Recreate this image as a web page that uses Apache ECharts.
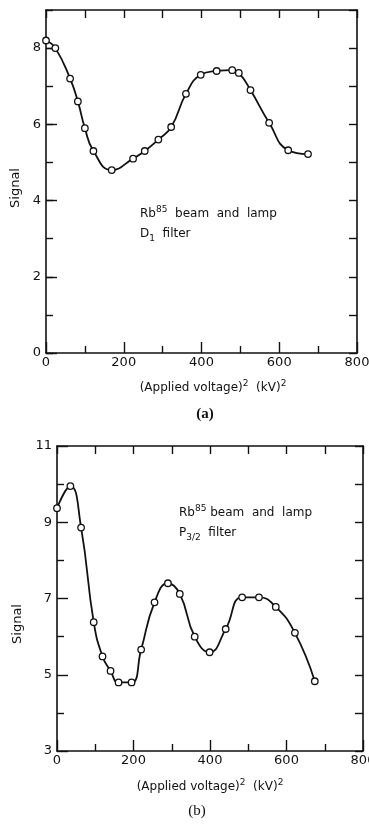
<!DOCTYPE html>
<html>
<head>
<meta charset="utf-8">
<script src="https://cdn.jsdelivr.net/npm/echarts@6/dist/echarts.min.js"></script>
<style>
html,body{margin:0;padding:0;background:#fff;}
#chart{width:369px;height:827px;}
</style>
</head>
<body>
<div id="chart"></div>
<script>
// Panel (a): Rb85 beam and lamp, D1 filter
var xA = [0, 24, 62, 82, 100, 122, 169, 224, 254, 289, 322, 360, 398, 439, 479, 496, 526, 574, 623, 674];
var yA = [8.2, 8.0, 7.2, 6.6, 5.9, 5.3, 4.8, 5.1, 5.3, 5.6, 5.93, 6.8, 7.3, 7.4, 7.42, 7.35, 6.9, 6.04, 5.32, 5.22];
// Panel (b): Rb85 beam and lamp, P3/2 filter
var xB = [0, 35, 63, 96, 119, 140, 161, 195, 220, 255, 290, 321, 360, 399, 441, 484, 528, 572, 622, 674];
var yB = [9.37, 9.95, 8.86, 6.38, 5.48, 5.10, 4.80, 4.80, 5.66, 6.9, 7.4, 7.12, 6.0, 5.59, 6.2, 7.03, 7.03, 6.78, 6.1, 4.83];

var xTitle = '(Applied voltage)';
var yTitle = 'Signal';

function pairs(xs, ys) { return xs.map(function (x, i) { return [x, ys[i]]; }); }

var INK = '#111';
var FONT = 'DejaVu Sans';
var lineSt = { color: INK, width: 1.6 };
var tickSt = { color: INK, width: 1.4 };

function axisBase(extra) {
  var a = {
    type: 'value',
    axisLine: { show: true, onZero: false, lineStyle: lineSt },
    axisTick: { show: true, inside: true, length: 11, lineStyle: tickSt },
    splitLine: { show: false },
    minorSplitLine: { show: false },
    axisLabel: { show: true, color: INK, fontSize: 13, fontFamily: FONT, margin: 3 }
  };
  for (var k in extra) a[k] = extra[k];
  return a;
}
function mirror(extra) {
  var a = {
    type: 'value',
    axisLine: { show: true, onZero: false, lineStyle: lineSt },
    axisTick: { show: true, inside: true, length: 8, lineStyle: tickSt },
    splitLine: { show: false },
    axisLabel: { show: false }
  };
  for (var k in extra) a[k] = extra[k];
  return a;
}

var option = {
  animation: false,
  backgroundColor: '#fff',
  grid: [
    { left: 46, top: 10, width: 311, height: 343, outerBoundsMode: 'none', containLabel: false },
    { left: 57, top: 446, width: 306, height: 305, outerBoundsMode: 'none', containLabel: false }
  ],
  xAxis: [
    axisBase({ gridIndex: 0, position: 'bottom', min: 0, max: 800, interval: 200,
      minorTick: { show: true, splitNumber: 2, length: 7, lineStyle: tickSt } }),
    mirror({ gridIndex: 0, position: 'top', min: 0, max: 800, interval: 100 }),
    axisBase({ gridIndex: 1, position: 'bottom', min: 0, max: 800, interval: 200,
      minorTick: { show: true, splitNumber: 2, length: 7, lineStyle: tickSt } }),
    mirror({ gridIndex: 1, position: 'top', min: 0, max: 800, interval: 100 })
  ],
  yAxis: [
    axisBase({ gridIndex: 0, position: 'left', min: 0, max: 9, interval: 2,
      axisLabel: { show: true, showMaxLabel: false, color: INK, fontSize: 13, fontFamily: FONT, margin: 5 } }),
    mirror({ gridIndex: 0, position: 'left', min: 0, max: 9, interval: 1,
      axisLine: { show: false }, axisTick: { show: true, inside: true, length: 7, lineStyle: tickSt } }),
    mirror({ gridIndex: 0, position: 'right', min: 0, max: 9, interval: 1 }),
    axisBase({ gridIndex: 1, position: 'left', min: 3, max: 11, interval: 2,
      minorTick: { show: true, splitNumber: 2, length: 7, lineStyle: tickSt },
      axisLabel: { show: true, color: INK, fontSize: 13, fontFamily: FONT, margin: 5 } }),
    mirror({ gridIndex: 1, position: 'right', min: 3, max: 11, interval: 1 })
  ],
  series: [
    {
      type: 'line', xAxisIndex: 0, yAxisIndex: 0, data: pairs(xA, yA),
      smooth: 0.5, symbol: 'circle', symbolSize: 6.5,
      lineStyle: { color: INK, width: 1.8 },
      itemStyle: { color: '#fff', borderColor: INK, borderWidth: 1.3 }
    },
    {
      type: 'line', xAxisIndex: 2, yAxisIndex: 3, data: pairs(xB, yB),
      smooth: 0.5, symbol: 'circle', symbolSize: 6.5,
      lineStyle: { color: INK, width: 1.8 },
      itemStyle: { color: '#fff', borderColor: INK, borderWidth: 1.3 }
    }
  ],
  graphic: [
    { type: 'text', x: 16, y: 188, rotation: Math.PI / 2,
      style: { text: yTitle, fontSize: 13, fontFamily: FONT, fill: INK, align: 'center', verticalAlign: 'middle' } },
    { type: 'text', x: 18, y: 624, rotation: Math.PI / 2,
      style: { text: yTitle, fontSize: 13, fontFamily: FONT, fill: INK, align: 'center', verticalAlign: 'middle' } },
    { type: 'text', x: 213, y: 388,
      style: { text: '{m|' + xTitle + '}{s|2}{m|  (kV)}{s|2}', fill: INK, align: 'center', verticalAlign: 'middle',
        rich: { m: { fontSize: 12, fontFamily: FONT, lineHeight: 18, fill: INK },
                s: { fontSize: 9, fontFamily: FONT, lineHeight: 8, verticalAlign: 'top', fill: INK } } } },
    { type: 'text', x: 210, y: 787,
      style: { text: '{m|' + xTitle + '}{s|2}{m|  (kV)}{s|2}', fill: INK, align: 'center', verticalAlign: 'middle',
        rich: { m: { fontSize: 12, fontFamily: FONT, lineHeight: 18, fill: INK },
                s: { fontSize: 9, fontFamily: FONT, lineHeight: 8, verticalAlign: 'top', fill: INK } } } },
    { type: 'text', x: 205, y: 414,
      style: { text: '(a)', fontSize: 15, fontWeight: 'bold', fontFamily: 'Liberation Serif', fill: INK, align: 'center', verticalAlign: 'middle' } },
    { type: 'text', x: 197, y: 811,
      style: { text: '(b)', fontSize: 15, fontFamily: 'Liberation Serif', fill: INK, align: 'center', verticalAlign: 'middle' } },
    { type: 'text', x: 140, y: 214,
      style: { text: '{m|Rb}{s|85}{m|  beam  and  lamp}', fill: INK, align: 'left', verticalAlign: 'middle',
        rich: { m: { fontSize: 12, fontFamily: FONT, lineHeight: 18, fill: INK },
                s: { fontSize: 9, fontFamily: FONT, lineHeight: 8, verticalAlign: 'top', fill: INK } } } },
    { type: 'text', x: 140, y: 234,
      style: { text: '{m|D}{b|1}{m|  filter}', fill: INK, align: 'left', verticalAlign: 'middle',
        rich: { m: { fontSize: 12, fontFamily: FONT, lineHeight: 18, fill: INK },
                b: { fontSize: 9, fontFamily: FONT, lineHeight: 8, verticalAlign: 'bottom', fill: INK } } } },
    { type: 'text', x: 179, y: 513,
      style: { text: '{m|Rb}{s|85}{m| beam  and  lamp}', fill: INK, align: 'left', verticalAlign: 'middle',
        rich: { m: { fontSize: 12, fontFamily: FONT, lineHeight: 18, fill: INK },
                s: { fontSize: 9, fontFamily: FONT, lineHeight: 8, verticalAlign: 'top', fill: INK } } } },
    { type: 'text', x: 179, y: 533,
      style: { text: '{m|P}{b|3/2}{m|  filter}', fill: INK, align: 'left', verticalAlign: 'middle',
        rich: { m: { fontSize: 12, fontFamily: FONT, lineHeight: 18, fill: INK },
                b: { fontSize: 9, fontFamily: FONT, lineHeight: 8, verticalAlign: 'bottom', fill: INK } } } }
  ]
};

var chart = echarts.init(document.getElementById('chart'), null, { renderer: 'canvas' });
chart.setOption(option);
</script>
</body>
</html>
